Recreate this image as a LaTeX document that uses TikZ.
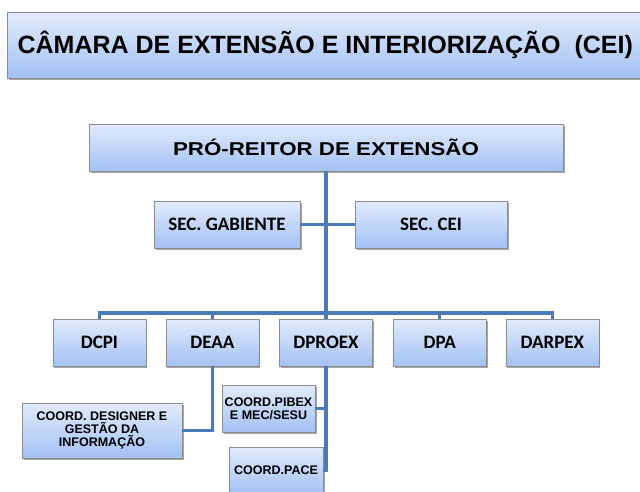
\documentclass[tikz,border=0pt]{standalone}
\usepackage{fontspec}
\setmainfont{Liberation Sans}
\newfontfamily\carfont{Carlito}
\usetikzlibrary{shadows}
\definecolor{boxtop}{HTML}{E1EBFC}
\definecolor{boxbot}{HTML}{A3C1F4}
\definecolor{boxline}{HTML}{8C8C8C}
\definecolor{conn}{HTML}{4A7AB8}
\tikzset{
  orgbox/.style={draw=boxline, line width=0.8pt, top color=boxtop, bottom color=boxbot,
    rectangle, inner sep=0pt, align=center, text=black,
    drop shadow={shadow xshift=1.5pt, shadow yshift=-2pt, fill=black, opacity=0.35}},
  smallbox/.style={orgbox, minimum width=93pt, minimum height=47pt,
    font=\carfont\bfseries\fontsize{19}{22}\selectfont},
  coordbox/.style={orgbox, font=\bfseries\fontsize{12.5}{13}\selectfont},
  link/.style={draw=conn, line width=3.5pt, line join=miter}
}
\begin{document}
\begin{tikzpicture}[x=1pt, y=-1pt]
\useasboundingbox (0,0) rectangle (640,491);
\fill[white] (0,0) rectangle (640,491);
% title banner
\node[orgbox, minimum width=635.5pt, minimum height=66pt,
      font=\bfseries\fontsize{25}{30}\selectfont] (title) at (325.25,45)
  {CÂMARA DE EXTENSÃO E INTERIORIZAÇÃO\ \ (CEI)};
% top
\node[orgbox, minimum width=474pt, minimum height=47pt,
      font=\bfseries\fontsize{18.6}{22}\selectfont] (pro) at (326,147.5)
  {\scalebox{1.2}[1]{PRÓ-REITOR DE EXTENSÃO}};
\node[smallbox, minimum width=146pt] (secg) at (227,224.5) {SEC. GABIENTE};
\node[smallbox, minimum width=152pt] (secc) at (431,224.5) {SEC. CEI};
% directorates
\node[smallbox] (dcpi)   at (99.4,342.5)  {DCPI};
\node[smallbox] (deaa)   at (212.4,342.5) {DEAA};
\node[smallbox] (dproex) at (326,342.5)   {DPROEX};
\node[smallbox] (dpa)    at (439.7,342.5) {DPA};
\node[smallbox] (darpex) at (552.4,342.5) {DARPEX};
% coordinations
\node[coordbox, minimum width=160pt, minimum height=55pt] (design) at (102,430.5)
  {COORD. DESIGNER E\\GESTÃO DA\\INFORMAÇÃO};
\node[coordbox, minimum width=93pt, minimum height=47pt] (pibex) at (268.5,408.5)
  {COORD.PIBEX\\E MEC/SESU};
\node[coordbox, minimum width=94pt, minimum height=47pt] (pace) at (276,470.5)
  {COORD.PACE};
% connectors
\coordinate (bus) at (326,313);
\draw[link] (pro.south) -- (bus);
\draw[link] (secg.east) -- (secc.west);
\draw[link] (dcpi.north) |- (bus) -| (darpex.north);
\draw[link] (deaa.north) -- (deaa.north |- bus);
\draw[link] (dproex.north) -- (bus);
\draw[link] (dpa.north) -- (dpa.north |- bus);
\draw[link] (deaa.south) |- (design.east);
\draw[link] (dproex.south) |- (pace.east);
\draw[link] (dproex.south |- pibex.east) -- (pibex.east);
\end{tikzpicture}
\end{document}
